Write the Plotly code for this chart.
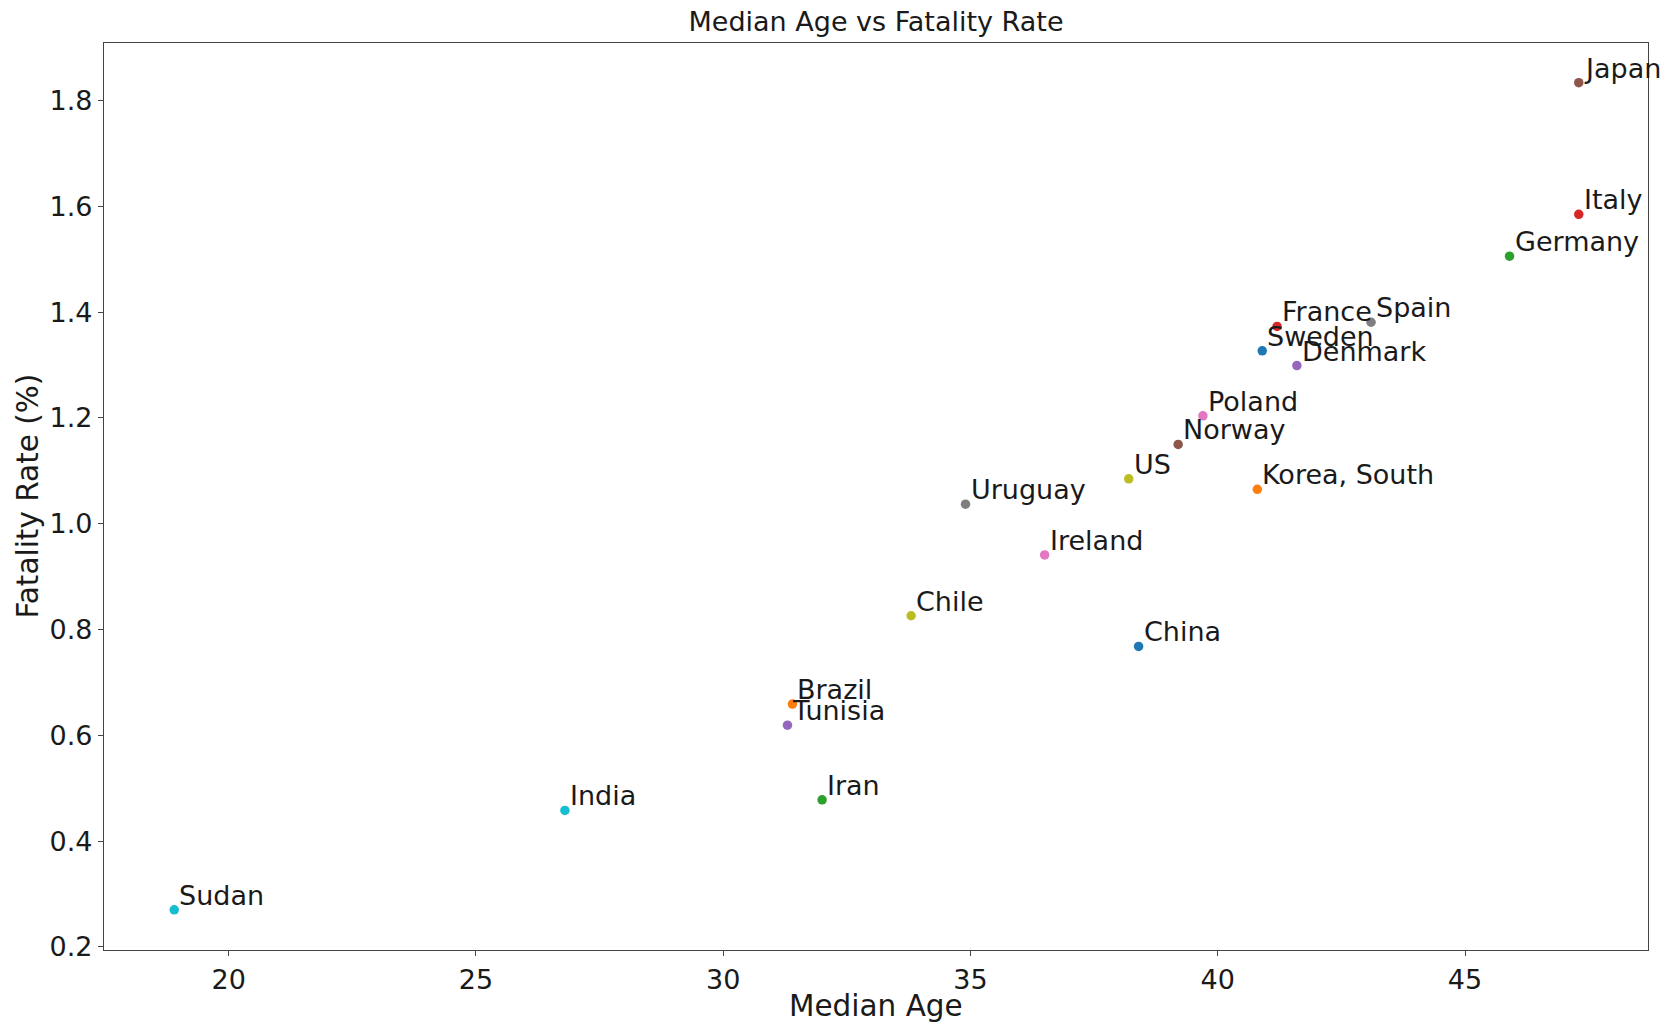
import plotly.graph_objects as go

countries = ["Japan", "Italy", "Germany", "France", "Spain", "Sweden", "Denmark",
             "Poland", "Norway", "US", "Korea, South", "Uruguay", "Ireland", "Chile",
             "China", "Brazil", "Tunisia", "Iran", "India", "Sudan"]
median_age = [47.3, 47.3, 45.9, 41.2, 43.1, 40.9, 41.6,
              39.7, 39.2, 38.2, 40.8, 34.9, 36.5, 33.8,
              38.4, 31.4, 31.3, 32.0, 26.8, 18.9]
fatality_rate = [1.834, 1.585, 1.506, 1.373, 1.381, 1.327, 1.299,
                 1.204, 1.150, 1.085, 1.065, 1.037, 0.941, 0.826,
                 0.768, 0.659, 0.619, 0.478, 0.458, 0.270]
point_colors = ["#8c564b", "#d62728", "#2ca02c", "#d62728", "#7f7f7f", "#1f77b4", "#9467bd",
                "#e377c2", "#8c564b", "#bcbd22", "#ff7f0e", "#7f7f7f", "#e377c2", "#bcbd22",
                "#1f77b4", "#ff7f0e", "#9467bd", "#2ca02c", "#17becf", "#17becf"]

x_ticks = [20, 25, 30, 35, 40, 45]
y_ticks = [0.2, 0.4, 0.6, 0.8, 1.0, 1.2, 1.4, 1.6, 1.8]

FONT = "DejaVu Sans"
TXT = "#1a1a1a"

fig = go.Figure()
fig.add_trace(go.Scatter(
    x=median_age, y=fatality_rate, mode="markers",
    marker=dict(size=9.5, color=point_colors, line=dict(width=0)),
    showlegend=False, hoverinfo="skip",
))

annotations = []
for name, xv, yv in zip(countries, median_age, fatality_rate):
    annotations.append(dict(
        x=xv, y=yv, xref="x", yref="y", text=name, showarrow=False,
        xanchor="left", yanchor="bottom", xshift=3, yshift=-3,
        font=dict(family=FONT, size=27, color=TXT),
    ))

# axis titles
annotations.append(dict(
    x=0.5, y=0, xref="paper", yref="paper", text="Median Age", showarrow=False,
    xanchor="center", yanchor="middle", yshift=-56,
    font=dict(family=FONT, size=29.5, color=TXT),
))
annotations.append(dict(
    x=0, y=0.5, xref="paper", yref="paper", text="Fatality Rate (%)", showarrow=False,
    xanchor="center", yanchor="middle", xshift=-77, textangle=-90,
    font=dict(family=FONT, size=29.5, color=TXT),
))

fig.update_layout(
    width=1669, height=1023,
    margin=dict(l=104, r=21, t=43, b=73),
    paper_bgcolor="white", plot_bgcolor="white",
    title=dict(text="Median Age vs Fatality Rate", x=0.5, xref="paper",
               y=1 - 22 / 1023, yanchor="middle",
               font=dict(family=FONT, size=27, color=TXT)),
    annotations=annotations,
    font=dict(family=FONT, size=27, color=TXT),
)
fig.update_xaxes(
    range=[17.48, 48.7], tickvals=x_ticks, ticktext=[str(v) for v in x_ticks],
    showgrid=False, zeroline=False, showline=True, linecolor="#444", linewidth=1.3,
    mirror=True, ticks="outside", ticklen=5, tickcolor="#444",
    tickfont=dict(family=FONT, size=27, color=TXT),
)
fig.update_yaxes(
    range=[0.194, 1.909], tickvals=y_ticks, ticktext=[f"{v:.1f}" for v in y_ticks],
    showgrid=False, zeroline=False, showline=True, linecolor="#444", linewidth=1.3,
    mirror=True, ticks="outside", ticklen=5, tickcolor="#444",
    tickfont=dict(family=FONT, size=27, color=TXT),
)

fig.write_html("out.html")
